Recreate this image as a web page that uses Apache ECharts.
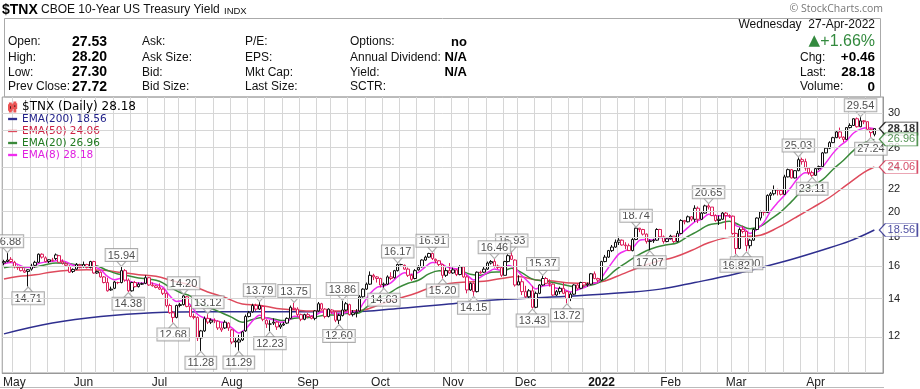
<!DOCTYPE html>
<html><head><meta charset="utf-8">
<script src="https://cdn.jsdelivr.net/npm/echarts@6/dist/echarts.min.js"></script>
<style>html,body{margin:0;padding:0;background:#fff}#c{width:920px;height:389px}</style>
</head><body><div id="c"></div>
<script>
// ---------------- DATA ----------------
const tradingDays = {
 '2021-04':[28,29,30],
 '2021-05':[3,4,5,6,7,10,11,12,13,14,17,18,19,20,21,24,25,26,27,28],
 '2021-06':[1,2,3,4,7,8,9,10,11,14,15,16,17,18,21,22,23,24,25,28,29,30],
 '2021-07':[1,2,6,7,8,9,12,13,14,15,16,19,20,21,22,23,26,27,28,29,30],
 '2021-08':[2,3,4,5,6,9,10,11,12,13,16,17,18,19,20,23,24,25,26,27,30,31],
 '2021-09':[1,2,3,7,8,9,10,13,14,15,16,17,20,21,22,23,24,27,28,29,30],
 '2021-10':[1,4,5,6,7,8,11,12,13,14,15,18,19,20,21,22,25,26,27,28,29],
 '2021-11':[1,2,3,4,5,8,9,10,11,12,15,16,17,18,19,22,23,24,26,29,30],
 '2021-12':[1,2,3,6,7,8,9,10,13,14,15,16,17,20,21,22,23,27,28,29,30,31],
 '2022-01':[3,4,5,6,7,10,11,12,13,14,18,19,20,21,24,25,26,27,28,31],
 '2022-02':[1,2,3,4,7,8,9,10,11,14,15,16,17,18,22,23,24,25,28],
 '2022-03':[1,2,3,4,7,8,9,10,11,14,15,16,17,18,21,22,23,24,25,28,29,30,31],
 '2022-04':[1,4,5,6,7,8,11,12,13,14,18,19,20,21,22,25,26,27]
};
const openVals = [
16.21,16.30,16.45,16.25,15.95,15.90,15.70,15.65,15.80,16.05,
16.25,16.80,16.55,16.30,16.40,16.50,16.70,16.30,16.15,16.00,
15.65,15.80,16.05,15.95,16.10,15.90,16.30,15.55,15.60,15.30,
14.95,14.50,14.60,14.95,14.95,15.70,15.10,14.45,14.95,14.70,
14.85,14.90,15.25,14.80,14.75,14.65,14.55,14.30,13.60,13.20,
12.95,13.60,13.65,14.10,13.55,13.00,12.95,11.90,12.25,12.90,
12.70,12.80,12.75,12.40,12.40,12.65,12.30,11.70,11.70,11.80,
12.25,13.00,13.25,13.60,13.40,13.55,12.80,12.60,12.65,12.70,
12.45,12.55,12.65,12.90,13.45,13.40,13.10,12.85,13.10,13.00,
12.90,13.30,13.70,13.40,13.00,13.35,13.25,12.80,13.05,13.35,
13.65,13.10,13.20,13.30,14.10,14.55,14.85,15.40,15.30,15.20,
14.80,14.85,15.30,15.25,15.70,16.10,16.05,15.80,15.40,15.20,
15.75,15.95,16.40,16.60,16.85,16.45,16.35,16.10,15.40,15.70,
15.55,15.75,15.45,15.95,15.30,14.50,14.90,14.40,15.60,15.60,
15.80,16.20,16.30,16.00,15.90,15.40,16.30,16.70,16.40,14.80,
15.00,14.40,14.10,14.45,13.50,14.30,14.80,15.20,14.90,14.85,
14.20,14.40,14.60,14.40,14.00,14.25,14.80,14.60,14.95,14.80,
14.85,15.50,15.20,15.10,16.30,16.60,17.05,17.30,17.65,17.80,
17.45,17.40,17.05,17.85,18.70,18.60,18.25,17.70,17.75,17.80,
18.60,18.05,17.70,17.90,18.10,17.70,18.30,19.30,19.20,19.60,
19.40,20.30,19.40,19.90,20.50,20.40,19.70,19.30,19.40,19.90,
19.70,19.65,18.30,17.20,18.60,18.45,17.40,17.80,18.60,19.50,
20.00,19.95,21.40,21.55,21.90,21.85,21.50,23.10,23.80,23.00,
23.70,24.80,24.60,23.95,23.50,23.25,23.90,24.10,25.50,26.00,
26.60,27.15,27.80,27.20,26.95,28.30,28.55,29.35,28.40,29.10,
29.00,28.10,27.53];
const highVals = [
16.42,16.88,16.60,16.35,16.05,15.95,15.85,15.80,16.15,16.35,
16.85,16.86,16.65,16.45,16.55,16.85,16.75,16.45,16.25,16.05,
15.85,16.20,16.15,16.30,16.15,16.35,16.35,15.70,15.65,15.35,
15.25,14.70,15.05,15.00,15.94,15.80,15.20,15.00,15.05,14.95,
14.95,15.40,15.30,14.95,14.80,14.90,14.60,14.35,13.70,13.30,
13.65,13.75,14.20,14.15,13.60,13.15,13.00,12.30,13.00,13.12,
12.90,12.90,12.80,12.65,12.80,12.70,12.35,11.90,12.05,12.25,
13.10,13.30,13.70,13.70,13.79,13.60,12.85,12.80,12.90,12.75,
12.65,12.70,12.95,13.60,13.75,13.50,13.15,13.15,13.20,13.05,
13.35,13.80,13.75,13.45,13.45,13.40,13.30,13.15,13.86,13.80,
13.70,13.35,13.40,14.20,14.60,14.95,15.65,15.50,15.35,15.25,
14.95,15.40,15.60,15.75,16.17,16.15,16.10,15.90,15.50,15.80,
16.05,16.45,16.70,16.90,16.91,16.50,16.40,16.15,15.90,16.20,
15.90,15.80,16.05,15.95,15.40,14.95,14.95,15.65,15.70,15.95,
16.30,16.40,16.46,16.10,15.95,16.35,16.80,16.93,16.45,15.40,
15.20,14.75,14.55,14.75,14.40,14.85,15.37,15.30,15.15,14.90,
14.50,14.70,14.95,14.45,14.35,14.85,14.90,15.00,14.95,14.95,
15.55,15.65,15.25,16.35,16.75,17.10,17.45,17.85,18.05,17.85,
17.65,17.55,17.95,18.74,18.72,18.65,18.30,17.85,17.90,18.70,
18.65,18.15,18.00,18.20,18.10,18.50,19.40,19.35,19.70,19.65,
20.55,20.45,20.00,20.60,20.65,20.40,19.80,19.70,20.00,20.00,
19.80,19.70,18.35,18.75,18.90,18.45,17.90,18.70,19.55,20.10,
20.10,21.50,21.70,22.30,22.00,21.95,23.30,23.90,23.85,23.75,
25.03,25.00,24.90,24.00,23.70,24.00,24.20,25.60,26.10,26.75,
27.25,27.95,28.30,27.30,28.35,28.80,29.40,29.50,29.54,29.20,
29.00,28.20,28.20];
const lowVals = [
16.05,16.25,16.20,15.85,15.75,15.65,15.55,14.71,15.70,15.90,
16.20,16.50,16.25,16.20,16.30,16.40,16.20,16.10,16.00,15.55,
15.55,15.75,15.85,15.90,15.85,15.85,15.50,15.50,15.25,14.90,
14.40,14.45,14.55,14.85,14.90,15.00,14.38,14.40,14.65,14.65,
14.80,14.85,14.75,14.70,14.60,14.50,14.20,13.50,13.15,12.68,
12.90,13.50,13.60,13.50,12.95,12.85,11.75,11.28,12.20,12.60,
12.60,12.65,12.30,12.20,12.35,12.25,11.60,11.45,11.29,11.75,
12.20,12.95,13.20,13.30,13.35,12.75,12.40,12.23,12.55,12.30,
12.35,12.50,12.60,12.85,13.35,13.00,12.75,12.80,12.90,12.85,
12.80,13.25,13.35,12.90,12.95,13.15,12.70,12.60,13.00,13.30,
13.05,13.00,12.95,13.25,14.05,14.50,14.80,15.10,14.95,14.65,
14.63,14.80,15.10,15.20,15.65,16.05,15.75,15.30,15.05,15.15,
15.70,15.90,16.35,16.55,16.40,16.20,16.00,15.20,15.30,15.50,
15.50,15.35,15.40,15.25,14.30,14.45,14.15,14.35,15.50,15.55,
15.75,16.10,15.90,15.80,15.30,15.40,16.25,16.40,14.70,14.80,
14.20,14.00,14.00,13.43,13.45,14.25,14.75,14.85,14.70,14.15,
14.15,14.25,14.25,13.72,13.85,14.20,14.50,14.55,14.65,14.70,
14.80,15.15,14.95,15.05,16.25,16.55,16.95,17.25,17.45,17.40,
17.15,17.10,17.00,17.80,18.40,18.15,17.55,17.07,17.60,17.75,
17.95,17.55,17.65,17.85,17.60,17.65,18.25,19.00,19.15,19.25,
19.20,19.10,19.35,19.85,20.20,19.65,19.20,18.95,19.35,18.60,
19.50,18.20,16.82,17.15,18.30,17.00,17.20,17.75,18.55,19.30,
19.70,19.90,21.00,21.40,21.40,21.40,21.45,23.05,22.95,22.95,
23.65,24.30,23.70,23.30,23.11,23.20,23.75,24.05,25.45,25.90,
26.55,27.10,27.00,26.65,26.90,28.20,28.50,28.30,28.35,28.70,
28.00,27.24,27.30];
const closeVals = [
16.30,16.40,16.30,15.95,15.90,15.70,15.60,15.76,16.00,16.25,
16.80,16.60,16.30,16.42,16.38,16.75,16.25,16.20,16.05,15.60,
15.78,16.10,15.90,16.10,15.90,16.30,15.55,15.65,15.30,14.95,
14.45,14.55,14.98,14.95,15.70,15.10,14.45,14.95,14.70,14.85,
14.88,15.25,14.80,14.75,14.65,14.55,14.30,13.60,13.20,12.95,
13.60,13.65,14.15,13.55,13.00,12.95,11.90,12.25,12.88,12.70,
12.80,12.78,12.40,12.30,12.70,12.40,11.70,11.75,11.80,12.20,
13.00,13.20,13.60,13.40,13.60,12.85,12.60,12.60,12.70,12.45,
12.55,12.60,12.90,13.50,13.40,13.10,12.85,13.10,13.00,12.90,
13.30,13.70,13.40,13.00,13.40,13.25,12.80,13.05,13.35,13.70,
13.10,13.20,13.25,14.10,14.55,14.85,15.40,15.30,15.20,14.80,
14.85,15.30,15.20,15.70,16.10,16.10,15.80,15.40,15.15,15.70,
15.90,16.40,16.60,16.85,16.50,16.35,16.10,15.40,15.70,15.55,
15.75,15.45,15.95,15.30,14.50,14.90,14.40,15.60,15.55,15.80,
16.20,16.30,16.00,15.90,15.40,16.30,16.70,16.45,14.80,15.00,
14.40,14.10,14.45,13.50,14.30,14.80,15.20,14.90,14.85,14.20,
14.40,14.60,14.30,14.00,14.25,14.80,14.60,14.95,14.80,14.85,
15.50,15.20,15.10,16.30,16.60,17.05,17.30,17.65,17.80,17.45,
17.40,17.05,17.85,18.70,18.60,18.25,17.70,17.75,17.80,18.60,
18.05,17.70,17.90,18.10,17.70,18.30,19.30,19.20,19.60,19.40,
20.30,19.40,19.90,20.50,20.40,19.70,19.30,19.40,19.90,19.70,
19.65,18.30,17.20,18.60,18.45,17.40,17.80,18.60,19.50,20.00,
19.95,21.40,21.55,21.90,21.85,21.50,23.10,23.80,23.00,23.70,
24.80,24.60,23.95,23.50,23.25,23.90,24.10,25.50,26.00,26.60,
27.15,27.80,27.20,26.95,28.30,28.55,29.35,28.40,29.10,29.00,
28.10,27.72,28.18];
// EMA lines as [bar index, value]
const ema200 = [[0,12.1],[14,12.65],[28,13.0],[43,13.2],[60,13.25],[80,13.25],[100,13.25],[115,13.45],[130,13.7],[145,13.95],[165,14.15],[180,14.35],[190,14.55],[200,14.95],[212,15.5],[225,16.25],[237,17.1],[245,17.75],[252,18.56]];
const ema50 = [[0,15.17],[4,15.33],[9,15.43],[14,15.62],[19,15.72],[24,15.76],[29,15.72],[34,15.58],[39,15.44],[44,15.34],[49,15.05],[54,14.79],[59,14.38],[64,14.06],[69,13.68],[74,13.62],[79,13.44],[84,13.36],[89,13.29],[94,13.3],[99,13.29],[104,13.35],[109,13.67],[114,13.99],[119,14.29],[124,14.68],[129,14.89],[134,14.98],[139,15.03],[144,15.2],[149,15.32],[154,15.11],[159,15.05],[164,14.92],[169,14.9],[174,15.05],[179,15.48],[184,15.92],[189,16.3],[194,16.59],[199,17.06],[204,17.61],[209,17.97],[214,18.06],[219,18.17],[224,18.74],[229,19.51],[234,20.33],[239,21.22],[244,22.35],[249,23.53],[252,24.06]];
const ema20 = [[0,15.89],[3,15.97],[6,15.91],[9,15.94],[12,16.09],[15,16.2],[18,16.19],[21,16.1],[24,16.07],[27,16.0],[30,15.71],[33,15.49],[36,15.37],[39,15.23],[42,15.16],[45,15.03],[48,14.67],[51,14.35],[54,14.14],[57,13.68],[60,13.45],[63,13.2],[66,12.95],[69,12.69],[72,12.84],[75,12.95],[78,12.87],[81,12.78],[84,12.91],[87,12.94],[90,12.97],[93,13.07],[96,13.08],[99,13.16],[102,13.16],[105,13.51],[108,13.97],[111,14.24],[114,14.62],[117,14.91],[120,15.09],[123,15.49],[126,15.7],[129,15.66],[132,15.68],[135,15.47],[138,15.41],[141,15.59],[144,15.63],[147,15.85],[150,15.56],[153,15.16],[156,15.06],[159,14.95],[162,14.82],[165,14.7],[168,14.73],[171,14.85],[174,15.16],[177,15.73],[180,16.2],[183,16.65],[186,17.04],[189,17.31],[192,17.46],[195,17.61],[198,18.07],[201,18.49],[204,18.95],[207,19.08],[210,19.25],[213,18.94],[216,18.66],[219,18.85],[222,19.41],[225,20.02],[228,20.86],[231,21.78],[234,22.24],[237,22.84],[240,23.82],[243,24.72],[246,25.77],[249,26.57],[252,26.96]];
const ema8 = [[0,16.15],[2,16.23],[4,16.11],[6,15.93],[8,15.91],[10,16.17],[12,16.27],[14,16.32],[16,16.38],[18,16.28],[20,16.05],[22,16.03],[24,16.01],[26,15.96],[28,15.76],[30,15.33],[32,15.12],[34,15.22],[36,15.03],[38,14.94],[40,14.91],[42,14.95],[44,14.85],[46,14.67],[48,14.16],[50,13.83],[52,13.87],[54,13.62],[56,13.12],[58,12.92],[60,12.85],[62,12.74],[64,12.65],[66,12.4],[68,12.15],[70,12.35],[72,12.77],[74,13.06],[76,12.92],[78,12.82],[80,12.7],[82,12.73],[84,13.01],[86,12.98],[88,13.01],[90,13.05],[92,13.24],[94,13.24],[96,13.14],[98,13.17],[100,13.25],[102,13.24],[104,13.72],[106,14.29],[108,14.66],[110,14.73],[112,14.93],[114,15.32],[116,15.57],[118,15.45],[120,15.59],[122,15.95],[124,16.23],[126,16.22],[128,15.96],[130,15.84],[132,15.8],[134,15.43],[136,15.11],[138,15.29],[140,15.58],[142,15.8],[144,15.73],[146,16.04],[148,15.84],[150,15.37],[152,14.95],[154,14.56],[156,14.74],[158,14.79],[160,14.6],[162,14.54],[164,14.38],[166,14.5],[168,14.64],[170,14.87],[172,14.98],[174,15.57],[176,16.21],[178,16.81],[180,17.05],[182,17.23],[184,17.79],[186,17.85],[188,17.82],[190,18.0],[192,17.93],[194,17.91],[196,18.29],[198,18.74],[200,19.2],[202,19.39],[204,19.81],[206,19.68],[208,19.68],[210,19.67],[212,18.89],[214,18.74],[216,18.3],[218,18.62],[220,19.15],[222,20.08],[224,20.78],[226,21.42],[228,22.18],[230,23.03],[232,23.5],[234,23.45],[236,23.67],[238,24.5],[240,25.45],[242,26.24],[244,26.82],[246,27.68],[248,28.12],[250,28.27],[252,28.18]];
// annotated pivots [bar index, value]
const pivotHighs = [[1,16.88],[34,15.94],[52,14.20],[59,13.12],[74,13.79],[84,13.75],[98,13.86],[114,16.17],[124,16.91],[147,16.93],[142,16.46],[156,15.37],[183,18.74],[204,20.65],[230,25.03],[248,29.54]];
const pivotLows = [[7,14.71],[36,14.38],[49,12.68],[57,11.28],[68,11.29],[77,12.23],[97,12.60],[110,14.63],[127,15.20],[136,14.15],[153,13.43],[163,13.72],[187,17.07],[215,17.00],[212,16.82],[234,23.11],[251,27.24]];
const yTicks = [12,14,16,18,20,22,24,26,28,30];
const yDomain = [10.3, 32.1];
const monthNames = ['Jan','Feb','Mar','Apr','May','Jun','Jul','Aug','Sep','Oct','Nov','Dec'];
// quote panel
const quoteLabels1 = ['Open:','High:','Low:','Prev Close:'];
const quoteValues1 = ['27.53','28.20','27.30','27.72'];
const quoteLabels2 = ['Ask:','Ask Size:','Bid:','Bid Size:'];
const quoteLabels3 = ['P/E:','EPS:','Mkt Cap:','Last Size:'];
const quoteLabels4 = ['Options:','Annual Dividend:','Yield:','SCTR:'];
const quoteValues4 = ['no','N/A','N/A',''];
const sideLabels = ['Chg:','Last:','Volume:'];
const sideValues = ['+0.46','28.18','0'];
const changePct = '+1.66%';
const quoteDate = 'Wednesday  27-Apr-2022';

// ---------------- BUILD ----------------
const dates = [];
Object.keys(tradingDays).forEach(m => tradingDays[m].forEach(d => dates.push(m + '-' + String(d).padStart(2,'0'))));
const dObj = dates.map(s => new Date(s + 'T00:00:00Z'));
const weekStart = dates.map((s,i) => i > 0 && dObj[i].getUTCDay() < dObj[i-1].getUTCDay());
const monthStart = dates.map((s,i) => i > 0 && s.slice(0,7) !== dates[i-1].slice(0,7));

const RED = '#dc1f5a', BLK = '#111';
const candleData = closeVals.map((c,i) => {
  const prev = i > 0 ? closeVals[i-1] : openVals[0];
  const col = c >= prev ? BLK : RED;
  return { value: [Math.log(openVals[i]), Math.log(c), Math.log(lowVals[i]), Math.log(highVals[i])],
           itemStyle: { color: '#fff', color0: col, borderColor: col, borderColor0: col } };
});
const L = arr => arr.map(p => [p[0], Math.log(p[1])]);
const last = a => a[a.length-1][1].toFixed(2);

const C200 = '#2f2f8f', C50 = '#de4a5c', C20 = '#3a8a3a', C8 = '#f02cf0';
const legendValues = {'$TNX (Daily)': closeVals[closeVals.length-1].toFixed(2), 'EMA(200)': last(ema200), 'EMA(50)': last(ema50), 'EMA(20)': last(ema20), 'EMA(8)': last(ema8)};
const tagDefs = [
  {v: closeVals[closeVals.length-1], col: '#000', bold: true},
  {v: ema20[ema20.length-1][1], col: '#2a7a2a'},
  {v: ema50[ema50.length-1][1], col: '#cc2244'},
  {v: ema200[ema200.length-1][1], col: '#22228a'}
];
const lastIdx = closeVals.length - 1;

const FONT = 'Liberation Sans';
const gfx = [];
function txt(x, y, text, opt) {
  gfx.push({type:'text', x: x, y: y, silent: true, style: Object.assign({text: text, fontFamily: FONT, fontSize: 12, fill: '#111', align: 'left', verticalAlign: 'middle'}, opt || {})});
}
txt(2, 10, '$TNX', {fontSize: 14, fontWeight: 'bold', fill: '#000'});
txt(41, 10, 'CBOE 10-Year US Treasury Yield', {fontSize: 12});
txt(224, 11, 'INDX', {fontSize: 9.5});
txt(883, 9, '\u00A9 StockCharts.com', {align: 'right', fontFamily: 'Open Sans', fontSize: 10.5, fill: '#777'});
gfx.push({type:'rect', silent: true, shape: {x: 4.5, y: 18.5, width: 876, height: 78.5}, style: {fill: 'none', stroke: '#aaa', lineWidth: 1}});
const rowY = [42, 57.5, 72.5, 87];
rowY.forEach((y,r) => {
  txt(8, y, quoteLabels1[r]);
  txt(107, y, quoteValues1[r], {align: 'right', fontWeight: 'bold', fontSize: 14, fill: '#000'});
  txt(142, y, quoteLabels2[r]);
  txt(245, y, quoteLabels3[r]);
  txt(350, y, quoteLabels4[r]);
  txt(467, y, quoteValues4[r], {align: 'right', fontWeight: 'bold', fontSize: 13, fill: '#000'});
});
txt(875, 25, quoteDate, {align: 'right'});
txt(875, 42, changePct, {align: 'right', fontSize: 16, fill: '#338a3e'});
txt(820, 41, '\u25B2', {align: 'right', fontFamily: 'DejaVu Sans', fontSize: 15, fill: '#338a3e'});
sideLabels.forEach((s,r) => {
  txt(800, rowY[r+1], s);
  txt(875, rowY[r+1], sideValues[r], {align: 'right', fontWeight: 'bold', fontSize: 13.5, fill: '#000'});
});
gfx.push({type:'line', silent: true, shape: {x1: 0, y1: 387.5, x2: 884, y2: 387.5}, style: {stroke: '#bbb', lineWidth: 1}});

const pivotLabel = {
  show: true, formatter: p => p.value[2].toFixed(2), backgroundColor: '#fff', borderColor: '#999', borderWidth: 1,
  padding: [1, 2, 0, 2], color: '#222', fontSize: 11, fontFamily: FONT, lineHeight: 11, distance: 0
};
const GRID = '#d6d6d6';

const option = {
  animation: false,
  textStyle: {fontFamily: FONT},
  grid: {left: 0, top: 97, width: 883, height: 276, show: true, borderColor: '#999', borderWidth: 1},
  xAxis: {
    type: 'category', data: dates, max: 254, boundaryGap: true,
    axisLine: {show: true, lineStyle: {color: '#999'}}, axisTick: {show: false},
    axisLabel: {
      interval: (i) => !!monthStart[i], margin: 4, fontSize: 12, color: '#222',
      formatter: (v) => { const m = parseInt(v.slice(5,7), 10); return m === 1 ? '{y|' + v.slice(0,4) + '}' : monthNames[m-1]; },
      rich: {y: {fontWeight: 'bold', fontSize: 12, color: '#111'}}
    },
    splitLine: {show: true, interval: (i) => !!weekStart[i], lineStyle: {color: GRID, width: 1}}
  },
  yAxis: {
    type: 'value', position: 'right', min: Math.log(yDomain[0]), max: Math.log(yDomain[1]),
    axisLine: {show: true, lineStyle: {color: '#999'}}, axisTick: {show: false}, splitLine: {show: false},
    axisLabel: {customValues: yTicks.map(Math.log), formatter: v => String(Math.round(Math.exp(v))), color: '#222', fontSize: 11, margin: 5}
  },
  legend: {
    orient: 'vertical', left: 3, top: 96, itemWidth: 9, itemHeight: 9, itemGap: 0, selectedMode: false,
    textStyle: {fontFamily: 'DejaVu Sans', fontSize: 10.5, lineHeight: 12},
    formatter: n => n + ' ' + legendValues[n],
    data: [
      {name: '$TNX (Daily)', icon: 'path://M1,1h1v2h1v5h-1v2h-1v-2h-1v-5h1zM6,0h1v2h1v4h-1v4h-1v-4h-1v-4h1z', itemStyle: {color: '#000'}, textStyle: {color: '#000', fontSize: 12}},
      {name: 'EMA(200)', icon: 'path://M0,0h10v2.6h-10z', textStyle: {color: '#22228a'}},
      {name: 'EMA(50)', icon: 'path://M0,0h10v2.6h-10z', textStyle: {color: '#cc2244'}},
      {name: 'EMA(20)', icon: 'path://M0,0h10v2.6h-10z', textStyle: {color: '#1f7a1f'}},
      {name: 'EMA(8)', icon: 'path://M0,0h10v2.6h-10z', textStyle: {color: '#e020e0'}}
    ]
  },
  graphic: gfx,
  series: [
    {type: 'line', name: 'hgrid', data: L(ema200), silent: true, z: 1, showSymbol: false, lineStyle: {opacity: 0, width: 0},
     markLine: {silent: true, symbol: ['none','none'], label: {show: false}, lineStyle: {color: GRID, width: 1, type: 'solid', opacity: 1},
       emphasis: {disabled: true}, data: yTicks.map(v => ({yAxis: Math.log(v)}))}},
    {type: 'line', name: 'EMA(200)', data: L(ema200), smooth: 0.4, showSymbol: false, z: 2, color: C200, lineStyle: {color: C200, width: 1.5}, silent: true},
    {type: 'line', name: 'EMA(50)', data: L(ema50), smooth: 0.4, showSymbol: false, z: 2, color: C50, lineStyle: {color: C50, width: 1.5}, silent: true},
    {type: 'line', name: 'EMA(20)', data: L(ema20), smooth: 0.4, showSymbol: false, z: 2, color: C20, lineStyle: {color: C20, width: 1.5}, silent: true},
    {type: 'line', name: 'EMA(8)', data: L(ema8), smooth: 0.3, showSymbol: false, z: 2, color: C8, lineStyle: {color: C8, width: 1.5}, silent: true},
    {type: 'candlestick', name: '$TNX (Daily)', data: candleData, barWidth: 3, z: 3, silent: true, itemStyle: {color: '#fff', borderWidth: 1}},
    {type: 'scatter', name: 'pivHi', z: 4, silent: true,
     data: pivotHighs.map(p => [p[0], Math.log(p[1]), p[1]]),
     symbol: 'path://M0,0L10,0L5,6Z', symbolSize: [9,5], symbolOffset: [0,-3],
     itemStyle: {color: '#fff', borderColor: '#999', borderWidth: 1},
     label: Object.assign({position: 'top'}, pivotLabel)},
    {type: 'scatter', name: 'pivLo', z: 4, silent: true,
     data: pivotLows.map(p => [p[0], Math.log(p[1]), p[1]]),
     symbol: 'path://M5,0L10,6L0,6Z', symbolSize: [9,5], symbolOffset: [0,3],
     itemStyle: {color: '#fff', borderColor: '#999', borderWidth: 1},
     label: Object.assign({position: 'bottom'}, pivotLabel)},
    {type: 'scatter', name: 'tags', z: 6, silent: true,
     symbol: 'path://M0,6.5L6,0L38,0L38,13L6,13Z', symbolSize: [38,13], symbolOffset: [24,0],
     data: tagDefs.map(t => ({value: [lastIdx, Math.log(t.v), t.v],
        itemStyle: {color: '#fff', borderColor: t.col, borderWidth: 1},
        label: {show: true, position: 'inside', offset: [3,0], formatter: t.v.toFixed(2), color: t.col, fontWeight: t.bold ? 'bold' : 'normal', fontSize: 11, fontFamily: FONT}}))}
  ]
};
const chart = echarts.init(document.getElementById('c'), null, {renderer: 'canvas'});
chart.setOption(option);
</script></body></html>
